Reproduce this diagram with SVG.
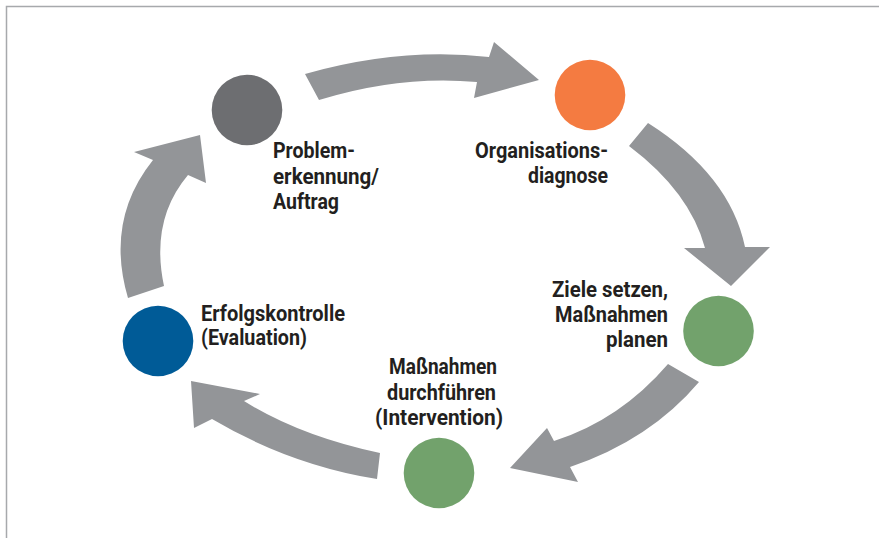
<svg xmlns="http://www.w3.org/2000/svg" width="879" height="538" viewBox="0 0 879 538">
<style>
.arrow{fill:#939598;stroke:none}
.lbl{font-family:Roboto,"Liberation Sans",sans-serif;font-weight:bold;font-size:22px;fill:#231f20}
</style>
<rect x="0" y="0" width="879" height="538" fill="#ffffff"/>
<rect x="6.5" y="6.5" width="900" height="600" fill="none" stroke="#a7a9ac" stroke-width="1.5"/>
<g id="connectors">
<path class="arrow" d="M305,74 Q400,47 489,57 L494,42 L539,80 L474,98 L477,82 Q400,75 319,100 Z"/>
<path class="arrow" d="M648,123 Q730,175 745,247 L770,247 L731,286 L684,248 L705,248 Q690,192 629,146 Z"/>
<path class="arrow" d="M668,364 Q620,420 554,441 L547,428 L510,468 L578,482 L570,467 Q650,440 699,382 Z"/>
<path class="arrow" d="M380,453 Q300,436 244,401 L260,394 L191,381 L194,428 L212,419 Q290,465 377,479 Z"/>
<path class="arrow" d="M128,298 Q105,220 153,160 L134,152 L200,135 L206,183 L188,175 Q150,220 164,286 Z"/>
</g>
<g id="node-problem">
<circle cx="247" cy="110" r="35.3" fill="#6d6e71"/>
<text class="lbl"><tspan x="273" y="158" textLength="82" lengthAdjust="spacingAndGlyphs">Problem-</tspan></text>
<text class="lbl"><tspan x="273" y="184" textLength="106" lengthAdjust="spacingAndGlyphs">erkennung/</tspan></text>
<text class="lbl"><tspan x="273" y="209" textLength="66" lengthAdjust="spacingAndGlyphs">Auftrag</tspan></text>
</g>
<g id="node-diagnose">
<circle cx="590" cy="95" r="35.3" fill="#f47b41"/>
<text class="lbl"><tspan x="475" y="158" textLength="133" lengthAdjust="spacingAndGlyphs">Organisations-</tspan></text>
<text class="lbl"><tspan x="528" y="183" textLength="80" lengthAdjust="spacingAndGlyphs">diagnose</tspan></text>
</g>
<g id="node-ziele">
<circle cx="718.5" cy="331" r="35.3" fill="#72a26c"/>
<text class="lbl"><tspan x="552" y="297" textLength="116" lengthAdjust="spacingAndGlyphs">Ziele setzen,</tspan></text>
<text class="lbl"><tspan x="555" y="322" textLength="113" lengthAdjust="spacingAndGlyphs">Maßnahmen</tspan></text>
<text class="lbl"><tspan x="606" y="347" textLength="62" lengthAdjust="spacingAndGlyphs">planen</tspan></text>
</g>
<g id="node-intervention">
<circle cx="439" cy="473" r="35.3" fill="#72a26c"/>
<text class="lbl"><tspan x="389" y="374" textLength="108" lengthAdjust="spacingAndGlyphs">Maßnahmen</tspan></text>
<text class="lbl"><tspan x="387" y="400" textLength="109" lengthAdjust="spacingAndGlyphs">durchführen</tspan></text>
<text class="lbl"><tspan x="375" y="425" textLength="128" lengthAdjust="spacingAndGlyphs">(Intervention)</tspan></text>
</g>
<g id="node-evaluation">
<circle cx="158" cy="341" r="35.3" fill="#005b97"/>
<text class="lbl"><tspan x="201" y="321" textLength="144" lengthAdjust="spacingAndGlyphs">Erfolgskontrolle</tspan></text>
<text class="lbl"><tspan x="201" y="345" textLength="106" lengthAdjust="spacingAndGlyphs">(Evaluation)</tspan></text>
</g>
</svg>
